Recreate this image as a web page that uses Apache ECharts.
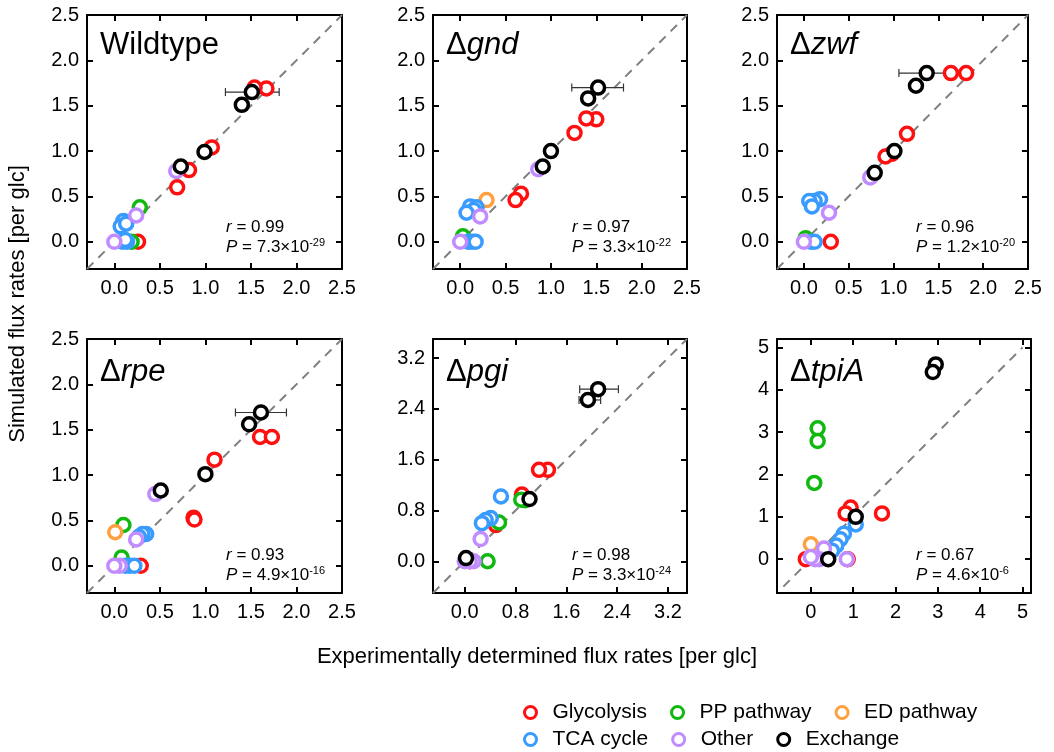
<!DOCTYPE html>
<html>
<head>
<meta charset="utf-8">
<script src="https://cdn.jsdelivr.net/npm/echarts@6/dist/echarts.min.js"></script>
<style>
  html, body { margin: 0; padding: 0; background: #fff; }
  #chart { width: 1054px; height: 752px; }
</style>
</head>
<body>
<div id="chart"></div>
<script>
// panel labels (gene knock-outs)
var panelNames = ['Wildtype', 'gnd', 'zwf', 'rpe', 'pgi', 'tpiA'];
var classNames = ['Glycolysis', 'PP pathway', 'ED pathway', 'TCA cycle', 'Other', 'Exchange'];
var classColors = ['#ff1010', '#10b810', '#ffa040', '#3a9bff', '#c08cff', '#000000'];

// [experimental, simulated] per panel
var glycolysis = [
  [[1.67, 1.69], [1.54, 1.70], [1.07, 1.04], [0.82, 0.79], [0.69, 0.60], [0.26, 0]],
  [[1.50, 1.35], [1.39, 1.36], [1.26, 1.20], [0.67, 0.53], [0.61, 0.46]],
  [[1.81, 1.86], [1.64, 1.86], [1.15, 1.19], [0.98, 0.97], [0.91, 0.94], [0.30, 0]],
  [[1.60, 1.42], [1.73, 1.42], [1.10, 1.17], [0.87, 0.53], [0.88, 0.51], [0.29, 0]],
  [[1.31, 1.44], [1.17, 1.44], [0.90, 1.05], [0.49, 0.57], [0.08, 0]],
  [[0.94, 1.22], [0.82, 1.08], [1.68, 1.08], [0.87, 0], [-0.12, 0]]
];
var ppPathway = [
  [[0.28, 0.38], [0.19, 0]],
  [[0.03, 0.06]],
  [[0.02, 0.04]],
  [[0.10, 0.45], [0.08, 0.09]],
  [[0.95, 0.96], [0.89, 0.97], [0.54, 0.61], [0.36, 0]],
  [[0.16, 3.09], [0.16, 2.79], [0.08, 1.80]]
];
var edPathway = [
  [],
  [[0.29, 0.46]],
  [],
  [[0.01, 0.37]],
  [],
  [[0.00, 0.35]]
];
var tcaCycle = [
  [[0.10, 0.23], [0.07, 0.17], [0.13, 0.20], [0.09, 0], [0.14, 0], [0.12, 0.02]],
  [[0.11, 0.39], [0.18, 0.38], [0.15, 0.35], [0.07, 0.32], [0.09, 0], [0.13, 0], [0.17, 0]],
  [[0.18, 0.47], [0.12, 0.45], [0.06, 0.45], [0.09, 0.39], [0.08, 0], [0.12, 0]],
  [[0.35, 0.35], [0.31, 0.35], [0.27, 0.32], [0.12, 0], [0.17, 0], [0.22, 0]],
  [[0.57, 1.02], [0.41, 0.68], [0.33, 0.65], [0.27, 0.60]],
  [[1.06, 0.82], [0.78, 0.60], [0.70, 0.47], [0.60, 0.32], [0.50, 0.20]]
];
var other = [
  [[0.68, 0.78], [0.24, 0.29], [0, 0]],
  [[0.86, 0.80], [0.22, 0.28], [0, 0]],
  [[0.74, 0.71], [0.28, 0.32], [0, 0]],
  [[0.45, 0.79], [0.24, 0.29], [0.06, 0], [0, 0]],
  [[0.25, 0.35], [0.14, 0], [0.08, 0], [0, 0]],
  [[0.31, 0.25], [0.85, 0], [0.20, 0], [0.10, 0], [0, 0.05]]
];
var exchange = [
  [[1.51, 1.65], [1.40, 1.51], [0.99, 0.99], [0.73, 0.83]],
  [[1.52, 1.70], [1.41, 1.58], [1.00, 1.00], [0.91, 0.83]],
  [[1.37, 1.86], [1.25, 1.72], [1.01, 1.00], [0.79, 0.76]],
  [[1.61, 1.69], [1.48, 1.56], [1.00, 1.01], [0.51, 0.83]],
  [[2.10, 2.71], [1.94, 2.54], [1.02, 0.98], [0.02, 0.05]],
  [[2.95, 4.60], [2.88, 4.42], [1.06, 1.00], [0.41, 0]]
];
// horizontal error bars: [simulated, low, high]
var errorBars = [
  [[1.65, 1.22, 1.81]],
  [[1.70, 1.23, 1.80]],
  [[1.86, 1.06, 1.68]],
  [[1.69, 1.33, 1.89]],
  [[2.71, 1.81, 2.42], [2.54, 1.80, 2.14]],
  []
];
var classData = [glycolysis, ppPathway, edPathway, tcaCycle, other, exchange];

// statistics
var rValues = ['0.99', '0.97', '0.96', '0.93', '0.98', '0.67'];
var pMantissa = ['7.3', '3.3', '1.2', '4.9', '3.3', '4.6'];
var pExponent = ['-29', '-22', '-20', '-16', '-24', '-6'];

// axes
var axisMin = [-0.3, -0.3, -0.3, -0.3, -0.5, -0.8];
var axisMax = [2.5, 2.5, 2.5, 2.5, 3.5, 5.2];
var diagFrom = [-0.3, -0.3, -0.3, -0.3, -0.5, -0.65];
var diagTo = [2.5, 2.5, 2.5, 2.5, 3.5, 5.0];
var tickValues = [
  [0, 0.5, 1, 1.5, 2, 2.5],
  [0, 0.5, 1, 1.5, 2, 2.5],
  [0, 0.5, 1, 1.5, 2, 2.5],
  [0, 0.5, 1, 1.5, 2, 2.5],
  [0, 0.8, 1.6, 2.4, 3.2],
  [0, 1, 2, 3, 4, 5]
];
var tickLabels = [
  ['0.0', '0.5', '1.0', '1.5', '2.0', '2.5'],
  ['0.0', '0.5', '1.0', '1.5', '2.0', '2.5'],
  ['0.0', '0.5', '1.0', '1.5', '2.0', '2.5'],
  ['0.0', '0.5', '1.0', '1.5', '2.0', '2.5'],
  ['0.0', '0.8', '1.6', '2.4', '3.2'],
  ['0', '1', '2', '3', '4', '5']
];

// layout
var gridLeft = [87, 433, 777, 87, 433, 777];
var gridTop = [15, 15, 15, 339, 339, 339];
var gridWidth = [255, 254, 251, 255, 254, 254];
var gridHeight = 254;
var FONT = 'Liberation Sans, Arial, sans-serif';

var chart = echarts.init(document.getElementById('chart'));

function labelFor(p) {
  return function (v) {
    for (var i = 0; i < tickValues[p].length; i++) {
      if (Math.abs(tickValues[p][i] - v) < 1e-6) return tickLabels[p][i];
    }
    return '';
  };
}

function makeAxis(p, mirror, isX) {
  return {
    type: 'value',
    gridIndex: p,
    position: isX ? (mirror ? 'top' : 'bottom') : (mirror ? 'right' : 'left'),
    min: axisMin[p],
    max: axisMax[p],
    axisLine: { show: true, onZero: false, lineStyle: { color: '#000', width: 2 } },
    axisTick: {
      show: true, inside: true, length: 6, customValues: tickValues[p],
      lineStyle: { color: '#000', width: 2 }
    },
    axisLabel: {
      show: !mirror, customValues: tickValues[p], formatter: labelFor(p),
      color: '#000', fontSize: 20, fontFamily: FONT, margin: isX ? 9 : 8
    },
    splitLine: { show: false }
  };
}

var grids = [], xAxes = [], yAxes = [], series = [], graphics = [];

for (var p = 0; p < 6; p++) {
  grids.push({ left: gridLeft[p], top: gridTop[p], width: gridWidth[p], height: gridHeight });
  xAxes.push(makeAxis(p, false, true), makeAxis(p, true, true));
  yAxes.push(makeAxis(p, false, false), makeAxis(p, true, false));

  series.push({
    type: 'line', xAxisIndex: p * 2, yAxisIndex: p * 2, silent: true,
    symbol: 'none', z: 1,
    data: [[diagFrom[p], diagFrom[p]], [diagTo[p], diagTo[p]]],
    lineStyle: { color: '#808080', width: 2, type: [9, 7] }
  });

  series.push({
    type: 'custom', xAxisIndex: p * 2, yAxisIndex: p * 2, silent: true, z: 2,
    data: errorBars[p],
    renderItem: function (params, api) {
      var y = api.value(0);
      var a = api.coord([api.value(1), y]);
      var b = api.coord([api.value(2), y]);
      var st = { stroke: '#333', lineWidth: 1.2 };
      return {
        type: 'group',
        children: [
          { type: 'line', shape: { x1: a[0], y1: a[1], x2: b[0], y2: b[1] }, style: st },
          { type: 'line', shape: { x1: a[0], y1: a[1] - 4, x2: a[0], y2: a[1] + 4 }, style: st },
          { type: 'line', shape: { x1: b[0], y1: b[1] - 4, x2: b[0], y2: b[1] + 4 }, style: st }
        ]
      };
    }
  });

  for (var k = 0; k < classNames.length; k++) {
    series.push({
      type: 'scatter', name: classNames[k], xAxisIndex: p * 2, yAxisIndex: p * 2,
      silent: true, z: 3 + k,
      data: classData[k][p],
      symbol: 'circle', symbolSize: 13,
      itemStyle: { color: '#fff', borderColor: classColors[k], borderWidth: 3.5, opacity: 1 }
    });
  }

  // panel label
  graphics.push({
    type: 'text', left: gridLeft[p] + 13, top: gridTop[p] + (p < 3 ? 15 : 18),
    style: {
      text: p === 0 ? panelNames[p] : '{d|Δ}{g|' + panelNames[p] + '}',
      fontSize: 31, fontFamily: FONT, fill: '#000',
      rich: {
        d: { fontSize: 31, fontFamily: FONT },
        g: { fontSize: 31, fontFamily: FONT, fontStyle: 'italic' }
      }
    }
  });

  // statistics
  var sy = gridTop[p] + (p < 3 ? 202 : 206);
  graphics.push({
    type: 'text', left: gridLeft[p] + 139, top: sy,
    style: {
      text: '{i|r} = ' + rValues[p] + '\n{i|P} = ' + pMantissa[p] + '×10{s|' + pExponent[p] + '}',
      fontSize: 17, fontFamily: FONT, fill: '#000', lineHeight: 20,
      rich: {
        i: { fontSize: 17, fontFamily: FONT, fontStyle: 'italic', lineHeight: 20 },
        s: { fontSize: 11, fontFamily: FONT, verticalAlign: 'top', lineHeight: 14 }
      }
    }
  });
}

// axis titles
graphics.push({
  type: 'text', x: 18, y: 304, rotation: Math.PI / 2,
  style: {
    text: 'Simulated flux rates [per glc]', fontSize: 22, fontFamily: FONT, fill: '#000',
    align: 'center', verticalAlign: 'middle'
  }
});
graphics.push({
  type: 'text', x: 537, y: 657,
  style: {
    text: 'Experimentally determined flux rates [per glc]', fontSize: 22, fontFamily: FONT, fill: '#000',
    align: 'center', verticalAlign: 'middle'
  }
});

function legendRow(names, top) {
  return {
    left: 518, top: top, orient: 'horizontal', itemGap: 23,
    itemWidth: 12, itemHeight: 12, selectedMode: false,
    textStyle: { fontSize: 21, fontFamily: FONT, color: '#000', padding: [0, 0, 0, 11] },
    data: names.map(function (n) {
      var c = classColors[classNames.indexOf(n)];
      return { name: n, icon: 'circle', itemStyle: { color: '#fff', borderColor: c, borderWidth: 3 } };
    })
  };
}

chart.setOption({
  animation: false,
  backgroundColor: '#fff',
  grid: grids,
  xAxis: xAxes,
  yAxis: yAxes,
  legend: [
    legendRow(['Glycolysis', 'PP pathway', 'ED pathway'], 697),
    legendRow(['TCA cycle', 'Other', 'Exchange'], 724)
  ],
  graphic: graphics,
  series: series
});
</script>
</body>
</html>
